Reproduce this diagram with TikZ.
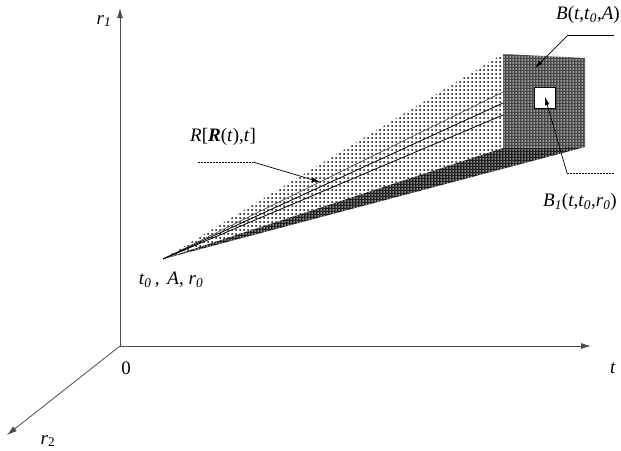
\documentclass[tikz,border=0pt]{standalone}
\usepackage{fontspec}
\setmainfont{Liberation Serif}
\usepackage{tikz}
\usetikzlibrary{arrows.meta, patterns}

% halftone looks
\pgfdeclarepatternformonly{lightdots}{\pgfqpoint{-1pt}{-1pt}}{\pgfqpoint{1pt}{1pt}}{\pgfqpoint{4pt}{4pt}}{\pgfpathcircle{\pgfpointorigin}{1pt}\pgfusepath{fill}}
\pgfdeclarepatternformonly{holes}{\pgfqpoint{-1pt}{-1pt}}{\pgfqpoint{1pt}{1pt}}{\pgfqpoint{3pt}{3pt}}{\pgfpathcircle{\pgfpointorigin}{0.75pt}\pgfusepath{fill}}

\newcommand{\isub}[1]{\textsubscript{\textit{#1}}}

\begin{document}
\begin{tikzpicture}[x=1pt, y=-1pt, every node/.style={font=\fontsize{19}{21}\selectfont},
    axis/.style={draw=black!70, line width=0.8pt, -{Latex[length=10pt,width=6pt]}},
    tip/.style={line width=0.7pt, -{Latex[length=8pt,width=4.5pt]}}]
    \useasboundingbox (0,0) rectangle (621,450);

    % axes
    \coordinate (O) at (120,346);
    \coordinate (r1end) at (120,8);
    \coordinate (tend) at (591,346);
    \coordinate (r2end) at (7,435);
    \draw[axis] (O) -- (r1end);
    \draw[axis] (O) -- (tend);
    \draw[axis] (O) -- (r2end);

    \node (lr1) at (104,21) {\textit{r}\isub{1}};
    \node (lt) at (613,368) {\textit{t}};
    \node (lzero) at (126,368) {0};
    \node (lr2) at (48,441) {\textit{r}\textsubscript{2}};

    % tube from the start point to the far face
    \coordinate (apex) at (163,259);
    \coordinate (TL) at (503,54);
    \coordinate (TR) at (585,58);
    \coordinate (BR) at (585,147);
    \coordinate (BL) at (503,148);

    \fill[pattern=lightdots, pattern color=black] (apex) -- (TL) -- (BL) -- cycle;
    \fill[black!88, postaction={pattern=holes, pattern color=white}] (apex) -- (BL) -- (BR) -- cycle;
    \fill[black!72, postaction={pattern=holes, pattern color=white}] (TL) -- (TR) -- (BR) -- (BL) -- cycle;

    \coordinate (p1) at (503,92);
    \coordinate (p2) at (503,103);
    \coordinate (p3) at (503,115);
    \draw[black!75, line width=0.6pt] (apex) -- (p1);
    \draw[line width=0.8pt] (apex) -- (p2);
    \draw[line width=0.8pt] (apex) -- (p3);

    \node[draw, fill=white, line width=0.5pt, minimum size=21pt, inner sep=0pt] (sq) at (545,98) {};

    % labels and leaders
    \node (lR) at (223,137) {\textit{R}[\textbf{\textit{R}}(\textit{t}),\textit{t}]};
    \node (lstart) at (171,280) {\textit{t}\isub{0}\,,\, \textit{A}, \textit{r}\isub{0}};
    \node (lB) at (588,15) {\textit{B}(\textit{t},\textit{t}\isub{0},\textit{A})};
    \node (lB1) at (580,202) {\textit{B}\isub{1}(\textit{t},\textit{t}\isub{0},\textit{r}\isub{0})};

    \coordinate (ra) at (198,162);
    \coordinate (rb) at (253,162);
    \coordinate (rtip) at (320,182);
    \draw[line width=0.6pt, dash pattern=on 2pt off 1pt] (ra) -- (rb);
    \draw[tip] (rb) -- (rtip);

    \coordinate (ba) at (614,35);
    \coordinate (bb) at (568,35);
    \coordinate (btip) at (535,68);
    \draw[line width=0.6pt] (ba) -- (bb);
    \draw[tip] (bb) -- (btip);

    \coordinate (ca) at (614,173);
    \coordinate (cb) at (567,173);
    \coordinate (ctip) at (545,97);
    \draw[line width=0.6pt, dash pattern=on 2pt off 1pt] (ca) -- (cb);
    \draw[tip] (cb) -- (ctip);
\end{tikzpicture}
\end{document}
